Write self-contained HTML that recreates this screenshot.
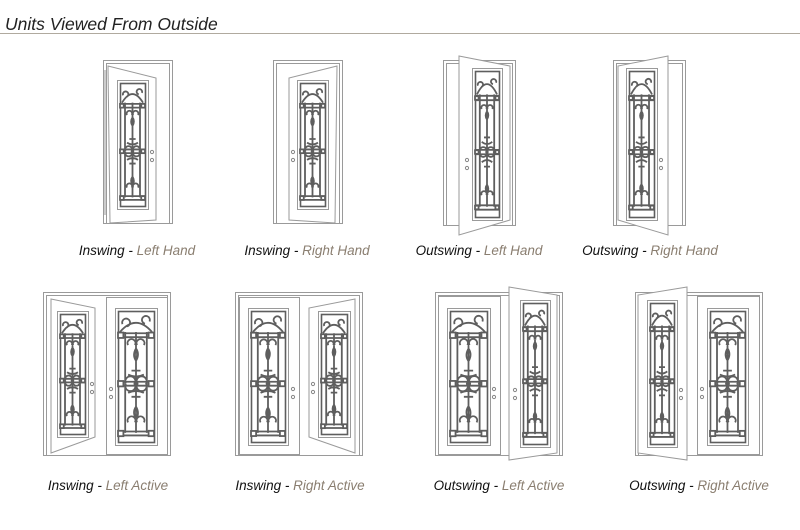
<!DOCTYPE html>
<html><head><meta charset="utf-8">
<style>
html,body{margin:0;padding:0;background:#fff;width:800px;height:530px;overflow:hidden}
svg{display:block}
.t{font-family:"Liberation Sans",sans-serif;font-style:italic;font-size:13.5px}
</style></head><body>
<svg id="s" width="800" height="530" viewBox="0 0 800 530" xmlns="http://www.w3.org/2000/svg">
<text x="5" y="30" font-family="Liberation Sans, sans-serif" font-style="italic" font-size="17.5" fill="#222">Units Viewed From Outside</text>
<line x1="0" y1="33.5" x2="800" y2="33.5" stroke="#b0aa9f" stroke-width="1"/>
<g id="g"></g>
<g class="t" text-anchor="middle">
<text x="137" y="255"><tspan fill="#111">Inswing - </tspan><tspan fill="#8a7e70">Left Hand</tspan></text>
<text x="307" y="255"><tspan fill="#111">Inswing - </tspan><tspan fill="#8a7e70">Right Hand</tspan></text>
<text x="479" y="255"><tspan fill="#111">Outswing - </tspan><tspan fill="#8a7e70">Left Hand</tspan></text>
<text x="650" y="255"><tspan fill="#111">Outswing - </tspan><tspan fill="#8a7e70">Right Hand</tspan></text>
<text x="108" y="490"><tspan fill="#111">Inswing - </tspan><tspan fill="#8a7e70">Left Active</tspan></text>
<text x="300" y="490"><tspan fill="#111">Inswing - </tspan><tspan fill="#8a7e70">Right Active</tspan></text>
<text x="499" y="490"><tspan fill="#111">Outswing - </tspan><tspan fill="#8a7e70">Left Active</tspan></text>
<text x="699" y="490"><tspan fill="#111">Outswing - </tspan><tspan fill="#8a7e70">Right Active</tspan></text>
</g>
</svg>
<script>
var o='';
var L='#9a9a9a', I='#5e5e5e';
function rect(x,y,w,h,c,sw){o+='<rect x="'+x+'" y="'+y+'" width="'+w+'" height="'+h+'" fill="none" stroke="'+(c||L)+'" stroke-width="'+(sw||1)+'"/>';}
function poly(p,c){o+='<polygon points="'+p.map(function(a){return a.join(',')}).join(' ')+'" fill="#fff" stroke="'+(c||L)+'" stroke-width="1"/>';}
function frame(x1,y1,x2,y2){
 rect(x1+.5,y1+.5,x2-x1,y2-y1);
 rect(x1+3.5,y1+3.5,x2-x1-6,y2-y1-3);
}
function knobs(x,y){o+='<circle cx="'+x+'" cy="'+y+'" r="1.6" fill="none" stroke="#888"/><circle cx="'+x+'" cy="'+(y+8)+'" r="1.6" fill="none" stroke="#888"/>';}
function panel(x,y,w,h){
 rect(x+.5,y+.5,w,h);
 var ix=x+3,iy=y+3,iw=w-6,ih=h-6;
 rect(ix+.5,iy+.5,iw,ih,I,1.6);
 var cx=ix+iw/2, s=iw/32;
 var q='';
 var ty=iy+ih*0.16;
 q+='M'+(ix+2)+','+ty+' Q'+(cx)+','+(iy+ih*0.02)+' '+(ix+iw-2)+','+ty;
 q+=' M'+(ix+4*s)+','+(iy+ih*0.1)+' a'+(3.5*s)+','+(3.5*s)+' 0 1 1 '+(4*s)+','+(2*s);
 q+=' M'+(ix+iw-4*s)+','+(iy+ih*0.08)+' a'+(3.5*s)+','+(3.5*s)+' 0 1 0 '+(-4*s)+','+(2*s);
 var v1=ix+iw*0.2, v2=ix+iw*0.8;
 q+=' M'+v1+','+ty+' V'+(iy+ih*0.93);
 q+=' M'+v2+','+ty+' V'+(iy+ih*0.93);
 q+=' M'+cx+','+ty+' V'+(iy+ih*0.93);
 [0.17,0.2,0.54,0.57,0.92,0.95].forEach(function(f){q+=' M'+ix+','+(iy+ih*f)+' H'+(ix+iw);});
 [[0.26,1],[0.85,-1]].forEach(function(a){
  var yy=iy+ih*a[0];
  q+=' M'+(cx-7*s)+','+yy+' a'+(3.5*s)+','+(3.5*s)+' 0 1 1 '+(6*s)+',0';
  q+=' M'+(cx+7*s)+','+yy+' a'+(3.5*s)+','+(3.5*s)+' 0 1 0 '+(-6*s)+',0';
  q+=' M'+cx+','+(yy+a[1]*3*s)+' q'+(3.5*s)+','+(a[1]*5*s)+' 0,'+(a[1]*11*s)+' q'+(-3.5*s)+','+(-a[1]*5*s)+' 0,'+(-a[1]*11*s);
 });
 var my=iy+ih*0.555;
 q+=' M'+(cx-9*s)+','+my+' a'+(4.5*s)+','+(4.5*s)+' 0 1 1 '+(8*s)+',0 a'+(4.5*s)+','+(4.5*s)+' 0 1 1 '+(-8*s)+',0';
 q+=' M'+(cx+1*s)+','+my+' a'+(4.5*s)+','+(4.5*s)+' 0 1 1 '+(8*s)+',0 a'+(4.5*s)+','+(4.5*s)+' 0 1 1 '+(-8*s)+',0';
 q+=' M'+(cx-7*s)+','+(my-ih*0.07)+' Q'+cx+','+(my-ih*0.04)+' '+(cx+7*s)+','+(my-ih*0.07);
 q+=' M'+(cx-7*s)+','+(my+ih*0.07)+' Q'+cx+','+(my+ih*0.04)+' '+(cx+7*s)+','+(my+ih*0.07);
 q+=' M'+(cx-4*s)+','+(my-ih*0.1)+' H'+(cx+4*s)+' M'+(cx-4*s)+','+(my+ih*0.1)+' H'+(cx+4*s);
 o+='<path d="'+q+'" fill="none" stroke="'+I+'" stroke-width="1.8"/>';
 var sq=Math.max(3.5,iw*0.15);
 [0.185,0.555,0.935].forEach(function(f){
  var yy=iy+ih*f-sq/2;
  o+='<rect x="'+ix+'" y="'+yy+'" width="'+sq+'" height="'+sq+'" fill="#fff" stroke="'+I+'" stroke-width="1.8"/>';
  o+='<rect x="'+(ix+iw-sq)+'" y="'+yy+'" width="'+sq+'" height="'+sq+'" fill="#fff" stroke="'+I+'" stroke-width="1.8"/>';
 });
 o+='<circle cx="'+cx+'" cy="'+my+'" r="'+(2.2*s)+'" fill="'+I+'"/>';
}
frame(103,60,172,223);
poly([[108,66],[156,78],[156,220],[110,223]]);
o+='<line x1="105" y1="70" x2="105" y2="215" stroke="'+L+'"/>';
panel(117,80,31,129);knobs(152,152);
frame(273,60,342,223);
poly([[337,66],[289,78],[289,220],[335,223]]);
panel(297,80,31,129);knobs(293,152);
frame(443,60,515,225);
poly([[459,56],[510,66],[510,220],[459,235]]);
panel(472,68,30,152);knobs(467,160);
frame(613,60,685,225);
poly([[668,56],[618,66],[618,220],[668,235]]);
panel(626,68,31,152);knobs(661,160);
frame(43,292,170,455);
o+='<rect x="106.5" y="297.5" width="61" height="157" fill="#fff" stroke="'+L+'"/>';
panel(115,308,42,137);knobs(111,389);
poly([[51,299],[95,308],[95,437],[51,453]]);
panel(57,311,31,126);knobs(92,384);
frame(235,292,362,455);
o+='<rect x="239.5" y="297.5" width="60" height="157" fill="#fff" stroke="'+L+'"/>';
panel(248,308,40,137);knobs(293,389);
poly([[355,299],[309,308],[309,437],[355,453]]);
panel(318,311,32,126);knobs(313,384);
frame(435,292,562,455);
o+='<rect x="438.5" y="296.5" width="62" height="158" fill="#fff" stroke="'+L+'"/>';
panel(447,308,43,137);knobs(494,389);
poly([[509,287],[557,295],[557,453],[509,460]]);
panel(520,300,30,147);knobs(515,390);
frame(635,292,762,455);
o+='<rect x="697.5" y="296.5" width="62" height="158" fill="#fff" stroke="'+L+'"/>';
panel(707,308,41,137);knobs(702,389);
poly([[687,287],[638,295],[638,453],[687,460]]);
panel(647,300,30,147);knobs(681,390);
document.getElementById('g').innerHTML=o;
</script>
</body></html>
